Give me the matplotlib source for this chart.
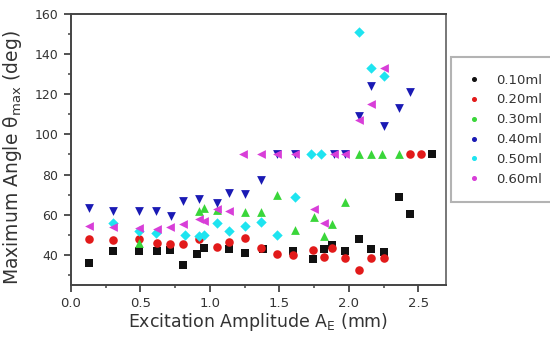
import matplotlib
matplotlib.use("Agg")
import matplotlib.pyplot as plt
from matplotlib.lines import Line2D
from matplotlib.ticker import MultipleLocator, FormatStrFormatter

plt.rcParams['font.family'] = ['DejaVu Sans']
plt.rcParams['mathtext.fontset'] = 'dejavusans'

# Excitation amplitude (mm) and maximum angle (deg) for each liquid volume
amp_010 = [0.13, 0.30, 0.49, 0.62, 0.71, 0.81, 0.91, 0.96, 1.14, 1.25, 1.38, 1.60,
           1.74, 1.82, 1.88, 1.97, 2.07, 2.16, 2.25, 2.36, 2.44, 2.60]
ang_010 = [36, 42, 42, 42, 42.5, 35, 40.5, 43.5, 43, 41, 43, 42,
           38, 43, 45, 42, 48, 43, 41.5, 69, 60.5, 90]

amp_020 = [0.13, 0.30, 0.49, 0.62, 0.71, 0.81, 0.92, 1.05, 1.14, 1.25, 1.37, 1.48,
           1.60, 1.74, 1.82, 1.88, 1.97, 2.07, 2.16, 2.25, 2.44, 2.52]
ang_020 = [48, 47.5, 48, 46, 45.5, 45.5, 48, 44, 46.5, 48.5, 43.5, 40.5,
           40, 42.5, 39, 43.5, 38.5, 32.5, 38.5, 38.5, 90, 90]

amp_030 = [0.49, 0.92, 0.96, 1.05, 1.25, 1.37, 1.48, 1.61, 1.75, 1.82, 1.88, 1.97,
           2.07, 2.16, 2.24, 2.36]
ang_030 = [46, 62, 63.5, 62.5, 61.5, 61.5, 70, 52.5, 59, 49.5, 55.5, 66.5,
           90, 90, 90, 90]

amp_040 = [0.13, 0.30, 0.49, 0.61, 0.72, 0.81, 0.92, 1.05, 1.14, 1.25, 1.37, 1.48,
           1.61, 1.89, 1.97, 2.07, 2.16, 2.25, 2.36, 2.44]
ang_040 = [63.5, 62, 62, 62, 59.5, 67, 68, 66, 71, 70.5, 77.5, 90,
           90, 90, 90, 109, 124, 104, 113, 121]

amp_050 = [0.30, 0.49, 0.61, 0.82, 0.92, 0.96, 1.05, 1.14, 1.25, 1.37, 1.48, 1.61,
           1.73, 1.80, 2.07, 2.16, 2.25]
ang_050 = [56, 52, 51, 50, 49.5, 50, 56, 52, 54.5, 56.5, 50, 69,
           90, 90, 151, 133, 129]

amp_060 = [0.13, 0.30, 0.49, 0.62, 0.71, 0.81, 0.92, 0.96, 1.05, 1.14, 1.24, 1.37,
           1.48, 1.61, 1.75, 1.82, 1.89, 1.97, 2.07, 2.16, 2.25]
ang_060 = [54.5, 54, 53.5, 53, 54, 55.5, 58, 57, 63, 62, 90, 90,
           90, 90, 63, 56, 90, 90, 107, 115, 133]

labels = ['0.10ml', '0.20ml', '0.30ml', '0.40ml', '0.50ml', '0.60ml']
series = [(amp_010, ang_010), (amp_020, ang_020), (amp_030, ang_030),
          (amp_040, ang_040), (amp_050, ang_050), (amp_060, ang_060)]
colors = ['#111111', '#e21a1a', '#3ad63a', '#1a1ab4', '#1ee4f0', '#d83ed8']
markers = ['s', 'o', '^', 'v', 'D', '<']
sizes = [30, 38, 40, 40, 28, 40]

text_c = '#333333'
fig = plt.figure(figsize=(5.5, 3.5), dpi=100)
ax = fig.add_axes([0.129, 0.186, 0.682, 0.774])

for (xs, ys), c, m, s in zip(series, colors, markers, sizes):
    ax.scatter(xs, ys, c=c, marker=m, s=s, linewidths=0, zorder=3)

ax.set_xlim(0, 2.7)
ax.set_ylim(25, 160)
ax.xaxis.set_major_locator(MultipleLocator(0.5))
ax.xaxis.set_minor_locator(MultipleLocator(0.25))
ax.yaxis.set_minor_locator(MultipleLocator(10))
ax.set_yticks([40, 60, 80, 100, 120, 140, 160])
ax.xaxis.set_major_formatter(FormatStrFormatter('%.1f'))

for sp in ax.spines.values():
    sp.set_color('#444444')
    sp.set_linewidth(1.4)
ax.spines['right'].set_color('#777777')

ax.tick_params(which='major', direction='out', length=5, width=1.3, color='#444444',
               labelcolor=text_c, pad=3)
ax.tick_params(which='minor', direction='out', length=2.5, width=1.1, color='#444444')
ax.tick_params(axis='x', labelsize=9.5, pad=3.5)
ax.tick_params(axis='y', labelsize=9, pad=4)

ax.set_xlabel(r'Excitation Amplitude A$_\mathregular{E}$ (mm)', fontsize=12.5,
              color=text_c, labelpad=1)
ax.set_ylabel(r'Maximum Angle θ$_\mathregular{max}$ (deg)', fontsize=13.5,
              color=text_c)
ax.yaxis.set_label_coords(-0.126, 0.47)

handles = [Line2D([], [], linestyle='none', marker='o', markersize=2.6,
                  markerfacecolor=c, markeredgecolor=c) for c in colors]
leg = fig.legend(handles, labels, loc='upper left', bbox_to_anchor=(0.82, 0.837),
                 fontsize=9.5, frameon=True, fancybox=False, handlelength=1.0,
                 handletextpad=1.2, labelspacing=0.52, borderpad=1.25,
                 borderaxespad=0, labelcolor=text_c)
leg.get_frame().set_edgecolor('#a0a0a0')
leg.get_frame().set_linewidth(1.5)

fig.savefig('out.png', dpi=100)
